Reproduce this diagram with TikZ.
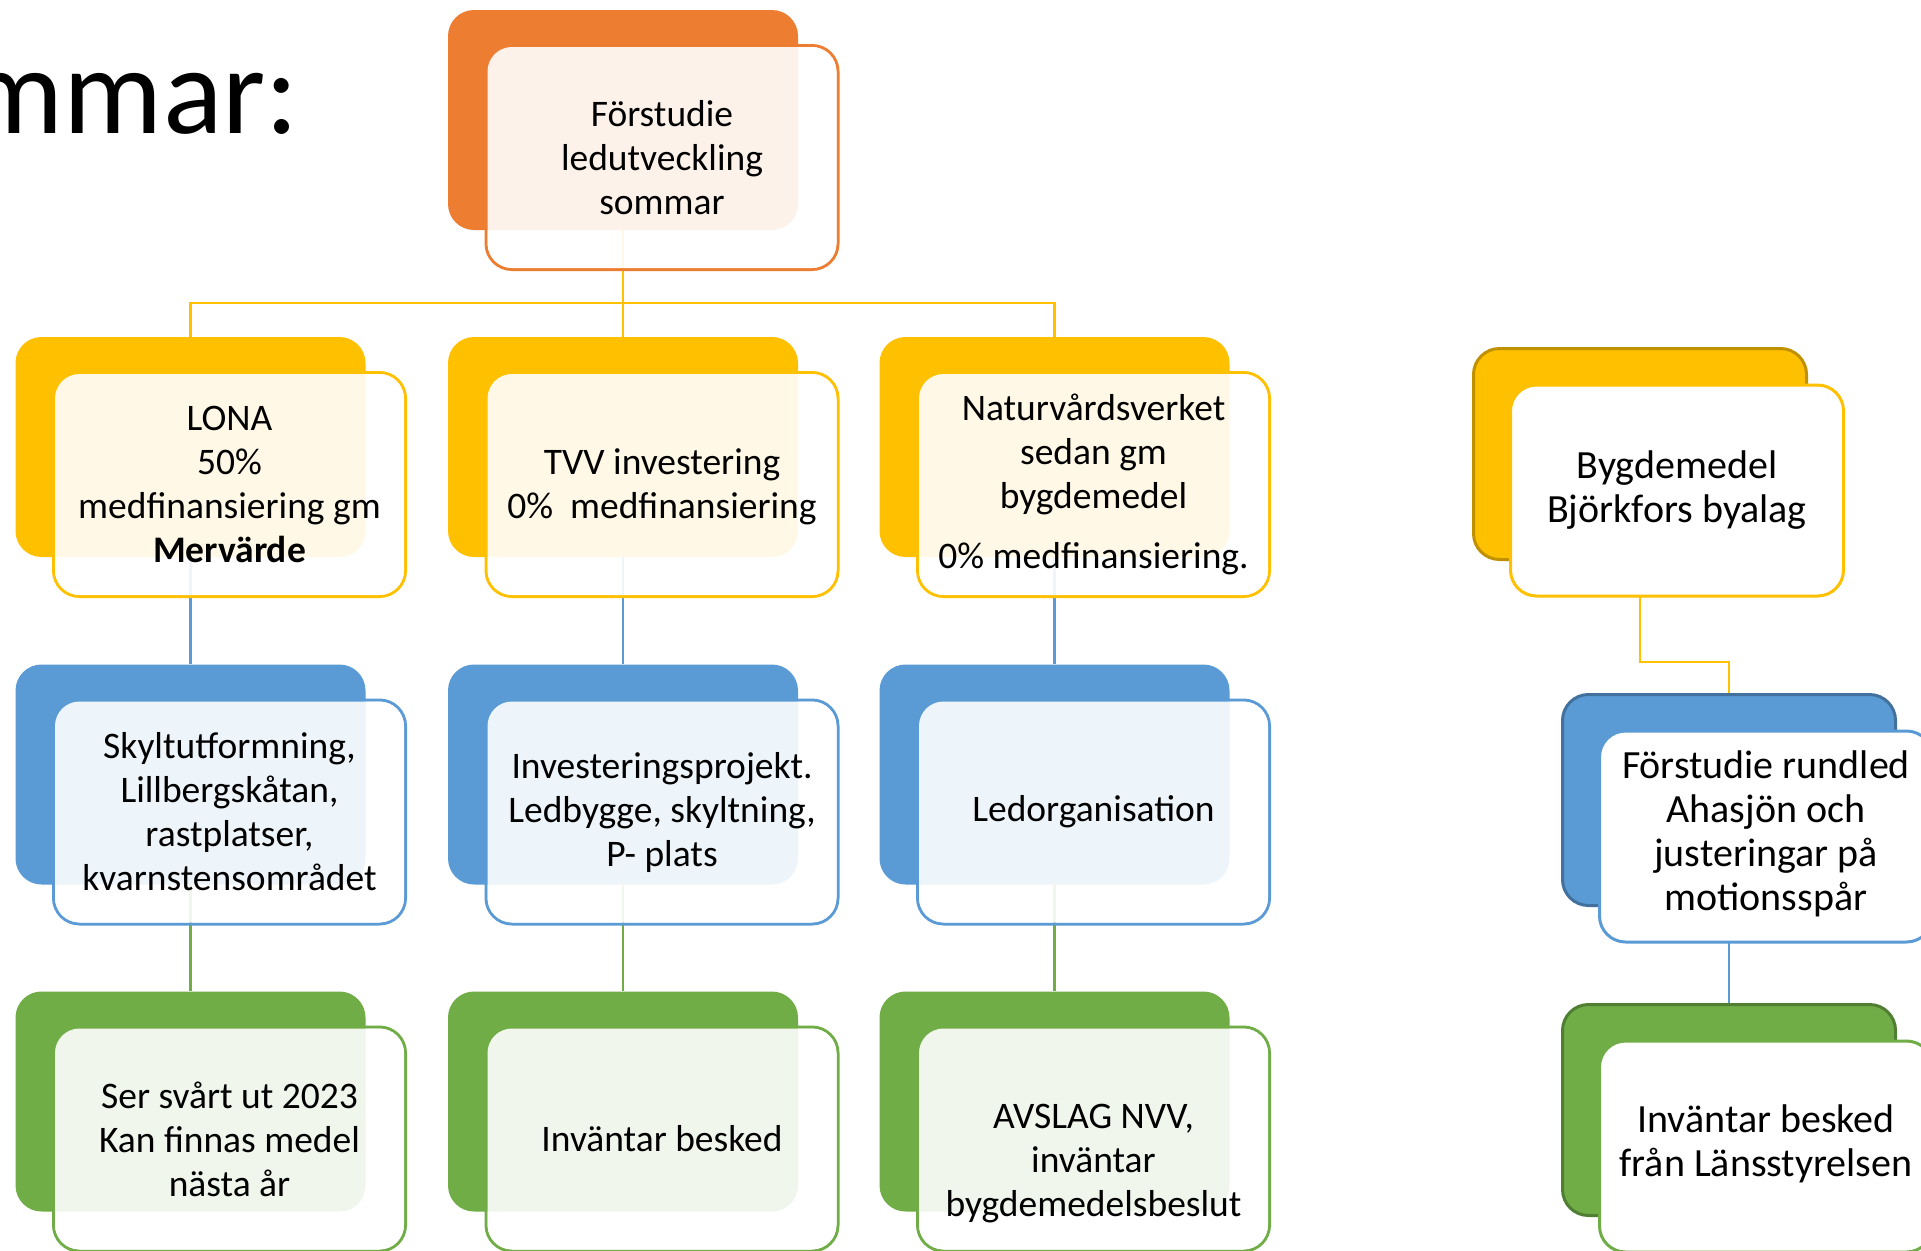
\documentclass[tikz,border=0pt]{standalone}
\usepackage{fontspec}
\setmainfont{Carlito}
\pgfdeclarelayer{bg}
\pgfsetlayers{bg,main}
\definecolor{corange}{HTML}{ED7D31}
\definecolor{cyellow}{HTML}{FFC000}
\definecolor{cblue}{HTML}{5B9BD5}
\definecolor{cgreen}{HTML}{70AD47}
\definecolor{dyellow}{HTML}{BF9000}
\definecolor{dblue}{HTML}{41719C}
\definecolor{dgreen}{HTML}{507E32}
\newcommand\diagfont{\fontsize{37.5}{44}\selectfont}
\newcommand\rdiagfont{\fontsize{40}{44}\selectfont}
\tikzset{
  box/.style={rectangle, inner sep=0pt},
  backbox/.style={box, rounded corners=26pt, fill=#1, draw=none, minimum width=350pt, minimum height=220pt},
  frontline/.style={box, rounded corners=26pt, draw=#1, line width=3pt, minimum width=352pt, minimum height=224pt},
  veil/.style={box, rounded corners=24.5pt, fill=white, fill opacity=0.9, draw=none, minimum width=349pt, minimum height=221pt},
  txt/.style={inner sep=0pt, align=center, font=\diagfont, text=black},
  rbackbox/.style 2 args={box, rounded corners=26pt, fill=#1, draw=#2, line width=3pt, minimum width=333pt, minimum height=211pt},
  rfront/.style={box, rounded corners=26pt, fill=white, draw=#1, line width=3pt, minimum width=333pt, minimum height=211pt},
  rtxt/.style={inner sep=0pt, align=center, font=\rdiagfont, text=black},
  conn/.style={draw=#1, line width=2.5pt},
}
% left-side unit: name, colour, back centre x, back centre y, text, text shift
\newcommand\lunit[6]{%
  \node[frontline=#2] (f#1) at (#3+39,#4+37.5) {};
  \node[backbox=#2] (b#1) at (#3,#4) {};
  \node[veil] (v#1) at (f#1) {};
  \node[txt, yshift=#6] (t#1) at (f#1) {#5};
}
% right-side unit: name, colour, dark colour, back centre x, back centre y, text, text shift
\newcommand\runit[7]{%
  \node[rbackbox={#2}{#3}] (b#1) at (#4,#5) {};
  \node[rfront=#2] (f#1) at (#4+37,#5+36.5) {};
  \node[rtxt, yshift=#7] (t#1) at (f#1) {#6};
}
\begin{document}
\begin{tikzpicture}[x=1pt,y=-1pt]
\useasboundingbox (0,0) rectangle (1921,1250);
\begin{pgfonlayer}{bg}
  \fill[white] (0,0) rectangle (1921,1250);
\end{pgfonlayer}
\begin{scope}
\clip (0,0) rectangle (1921,1250);

\node[anchor=base east, inner sep=0pt, font=\fontsize{124}{124}\selectfont] (title) at (299,133) {mmar:};

\lunit{0}{corange}{623}{120}{Förstudie\\ledutveckling\\sommar}{0pt}

\lunit{A1}{cyellow}{190.5}{447}{LONA\\50\%\\medfinansiering gm\\\textbf{Mervärde}}{0pt}
\lunit{B1}{cyellow}{623}{447}{TVV investering\\0\%~~medfinansiering}{-2.5pt}
\lunit{C1}{cyellow}{1054.5}{447}{Naturvårdsverket\\sedan gm\\bygdemedel\\[16pt]0\% medfinansiering.}{0pt}

\lunit{A2}{cblue}{190.5}{774.5}{Skyltutformning,\\Lillbergskåtan,\\rastplatser,\\kvarnstensområdet}{0pt}
\lunit{B2}{cblue}{623}{774.5}{Investeringsprojekt.\\Ledbygge, skyltning,\\P- plats}{0pt}
\lunit{C2}{cblue}{1054.5}{774.5}{Ledorganisation}{0pt}

\lunit{A3}{cgreen}{190.5}{1101.5}{Ser svårt ut 2023\\Kan finnas medel\\nästa år}{0pt}
\lunit{B3}{cgreen}{623}{1101.5}{Inväntar besked}{0pt}
\lunit{C3}{cgreen}{1054.5}{1101.5}{AVSLAG NVV,\\inväntar\\bygdemedelsbeslut}{-25pt}

\runit{R1}{cyellow}{dyellow}{1640}{454}{Bygdemedel\\Björkfors byalag}{0pt}
\runit{R2}{cblue}{dblue}{1729}{800}{Förstudie rundled\\Ahasjön och\\justeringar på\\motionsspår}{2.5pt}
\runit{R3}{cgreen}{dgreen}{1729}{1110}{Inväntar besked\\från Länsstyrelsen}{2.5pt}

\coordinate (j0) at (623,303);
\coordinate (j1) at (1729,662);
\begin{pgfonlayer}{bg}
  \draw[conn=cyellow] (b0.south) -- (bB1.north);
  \draw[conn=cyellow] (bA1.north) |- (j0) -| (bC1.north);
  \draw[conn=cblue] (bA1.south) -- (bA2.north);
  \draw[conn=cblue] (bB1.south) -- (bB2.north);
  \draw[conn=cblue] (bC1.south) -- (bC2.north);
  \draw[conn=cgreen] (bA2.south) -- (bA3.north);
  \draw[conn=cgreen] (bB2.south) -- (bB3.north);
  \draw[conn=cgreen] (bC2.south) -- (bC3.north);
  \draw[conn=cyellow] (bR1.south) |- (j1) -- (bR2.north);
  \draw[conn=cblue] (bR2.south) -- (bR3.north);
\end{pgfonlayer}
\end{scope}
\end{tikzpicture}
\end{document}
